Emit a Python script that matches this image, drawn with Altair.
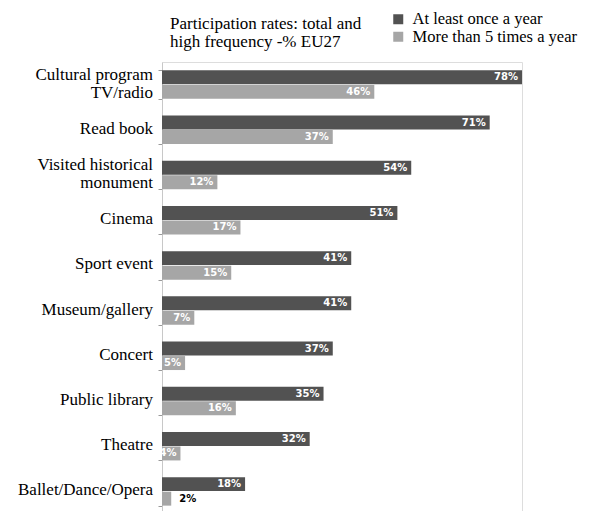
import altair as alt
import pandas as pd

categories = ["Cultural program|TV/radio", "Read book", "Visited historical|monument", "Cinema",
              "Sport event", "Museum/gallery", "Concert", "Public library", "Theatre", "Ballet/Dance/Opera"]
series = ["At least once a year", "More than 5 times a year"]
once_a_year = [78, 71, 54, 51, 41, 41, 37, 35, 32, 18]
more_than_5 = [46, 37, 12, 17, 15, 7, 5, 16, 4, 2]
title_lines = ["Participation rates: total and", "high frequency -% EU27"]
colors = ["#525252", "#a6a6a6"]
SERIF = "Times New Roman, Liberation Serif, serif"

rows = []
for c, a, b in zip(categories, once_a_year, more_than_5):
    rows.append({"cat": c, "series": series[0], "value": a, "label": f"{a}%"})
    rows.append({"cat": c, "series": series[1], "value": b, "label": f"{b}%"})
df = pd.DataFrame(rows)
cat_df = pd.DataFrame({"cat": categories})

y = alt.Y("cat:N", sort=categories, title=None,
          scale=alt.Scale(paddingInner=0.37, paddingOuter=0.185),
          axis=alt.Axis(labels=False, tickBand="extent", tickSize=4,
                        domainColor="#c8c8c8", tickColor="#9a9a9a"))
x = alt.X("value:Q", scale=alt.Scale(domain=[0, 78], nice=False), axis=None)
yoff = alt.YOffset("series:N", sort=series, scale=alt.Scale(paddingInner=0.04))

base = alt.Chart(df)
bars = base.mark_bar(cornerRadius=0).encode(
    y=y, x=x, yOffset=yoff,
    color=alt.Color("series:N", sort=series, scale=alt.Scale(domain=series, range=colors),
                    legend=alt.Legend(title=None, orient="none", legendX=228, legendY=-51,
                                      symbolType="square", symbolSize=100, symbolStrokeWidth=0,
                                      labelFont=SERIF, labelFontSize=16.5,
                                      labelColor="#000", rowPadding=0.5, symbolOffset=0,
                                      labelOffset=6, labelLimit=300))
)
inside = base.transform_filter("datum.value >= 3").mark_text(
    align="right", baseline="middle", dx=-4, font="DejaVu Sans", fontSize=10,
    fontWeight="bold", color="white").encode(y=y, x=x, yOffset=yoff, text="label:N")
outside = base.transform_filter("datum.value < 3").mark_text(
    align="left", baseline="middle", dx=8, font="DejaVu Sans", fontSize=10,
    fontWeight="bold", color="black").encode(y=y, x=x, yOffset=yoff, text="label:N")

cat_base = alt.Chart(cat_df).transform_calculate(lines="split(datum.cat, '|')")
cat_single = cat_base.transform_filter("indexof(datum.cat, '|') < 0").mark_text(
    align="right", baseline="middle", dy=-1, font=SERIF, fontSize=17, color="#000"
).encode(y=y, x=alt.value(-9), text=alt.Text("lines:N"))
cat_multi = cat_base.transform_filter("indexof(datum.cat, '|') >= 0").mark_text(
    align="right", baseline="middle", dy=-10, font=SERIF, fontSize=17, lineHeight=18,
    color="#000"
).encode(y=y, x=alt.value(-9), text=alt.Text("lines:N"))

title = alt.Chart(pd.DataFrame({"t": [0]})).mark_text(
    align="left", baseline="alphabetic", font=SERIF, fontSize=17, lineHeight=18,
    color="#000").encode(x=alt.value(8), y=alt.value(-33), text=alt.value(title_lines))

chart = (bars + inside + outside + cat_single + cat_multi + title).properties(
    width=360, height=452,
    autosize=alt.AutoSizeParams(type="none"),
    padding={"left": 154, "top": 54, "right": 62, "bottom": 0},
).configure_view(stroke=None).configure(background="white")

chart.save("out.html", embed_options={"renderer": "svg", "actions": False})
